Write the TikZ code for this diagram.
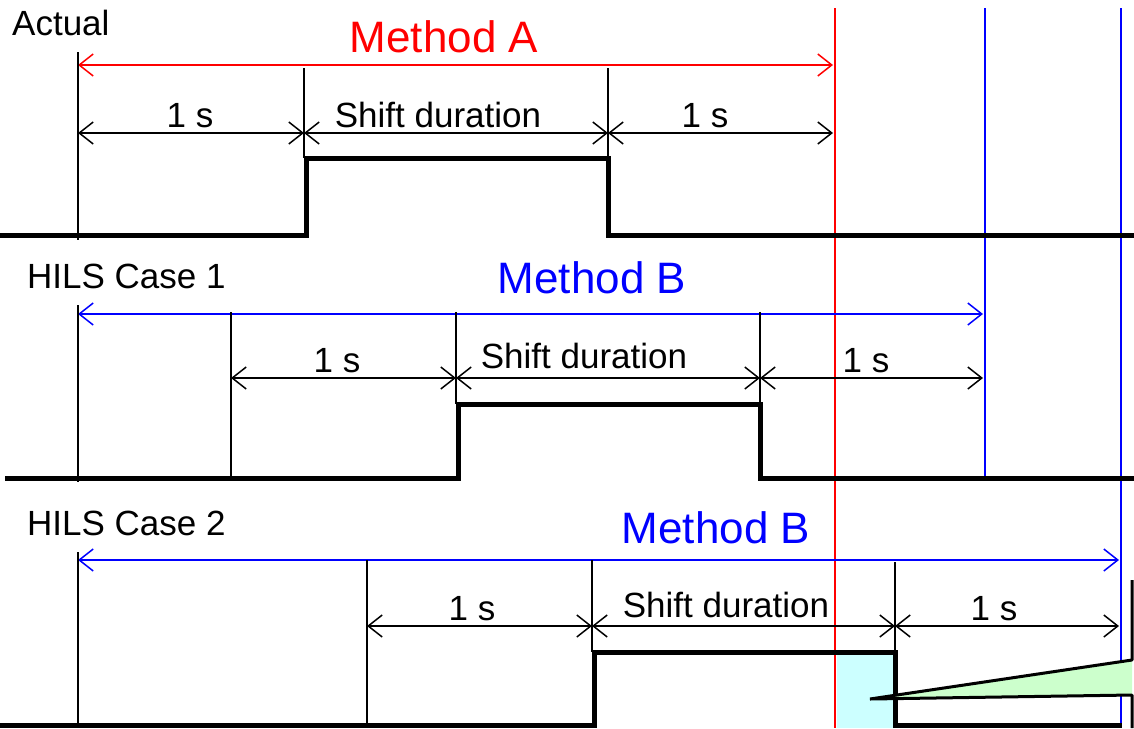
\documentclass[tikz,border=0pt]{standalone}
\usepackage{fontspec}
\setmainfont{Liberation Sans}
\usetikzlibrary{arrows.meta}
\definecolor{shiftcyan}{HTML}{CCFFFF}
\definecolor{callgreen}{HTML}{CCFFCC}
\tikzset{
  barb/.tip={Straight Barb[length=14pt,width=22pt]},
  dim/.style={barb-barb, line width=1.5pt},
  tick/.style={line width=1.5pt},
  signal/.style={line width=5pt},
  lbl/.style={anchor=base, inner sep=0pt},
  method/.style={lbl, font=\fontsize{44}{50}\selectfont},
}
\begin{document}
\begin{tikzpicture}[x=1pt, y=-1pt, font=\fontsize{35}{40}\selectfont]
    \useasboundingbox (0,0) rectangle (1134,728);

    % end marks of the methods
    \fill[shiftcyan] (837,652) rectangle (895,728);
    \draw[red, tick] (835,8) -- (835,728);
    \draw[blue, tick] (985,8) -- (985,478);
    \draw[blue, tick] (1121,8) -- (1121,728);

    % Actual
    \node[lbl, anchor=base west] (actual) at (12,35) {Actual};
    \node[method, red] (methodA) at (444,52) {Method A};
    \coordinate (ra) at (78,65);
    \coordinate (rb) at (833,65);
    \draw[red, dim] (ra) -- (rb);
    \draw[tick] (78,52) -- (78,240);
    \draw[tick] (304,68) -- (304,158);
    \draw[tick] (608,68) -- (608,158);
    \coordinate (a0) at (78,133);
    \coordinate (a1) at (304,133);
    \coordinate (a2) at (608,133);
    \coordinate (a3) at (833,133);
    \draw[dim] (a0) -- (a1);
    \draw[dim] (a1) -- (a2);
    \draw[dim] (a2) -- (a3);
    \node[lbl] (aone) at (190,127) {1 s};
    \node[lbl] (ashift) at (438,127) {Shift duration};
    \node[lbl] (atwo) at (705,127) {1 s};
    \draw[signal] (0,235) -- (306,235) -- (306,158) -- (608,158) -- (608,235) -- (1134,235);

    % HILS Case 1
    \node[lbl, anchor=base west] (caseone) at (27,288) {HILS Case 1};
    \node[method, blue] (methodB) at (592,293) {Method B};
    \coordinate (ba) at (78,314);
    \coordinate (bb) at (983,314);
    \draw[blue, dim] (ba) -- (bb);
    \draw[tick] (78,305) -- (78,482);
    \draw[tick] (231,312) -- (231,478);
    \draw[tick] (456,312) -- (456,404);
    \draw[tick] (760,312) -- (760,404);
    \coordinate (b0) at (231,378);
    \coordinate (b1) at (456,378);
    \coordinate (b2) at (760,378);
    \coordinate (b3) at (983,378);
    \draw[dim] (b0) -- (b1);
    \draw[dim] (b1) -- (b2);
    \draw[dim] (b2) -- (b3);
    \node[lbl] (bone) at (337,372) {1 s};
    \node[lbl] (bshift) at (584,368) {Shift duration};
    \node[lbl] (btwo) at (866,372) {1 s};
    \draw[signal] (5,478) -- (458,478) -- (458,404) -- (760,404) -- (760,478) -- (1134,478);

    % HILS Case 2
    \node[lbl, anchor=base west] (casetwo) at (27,535) {HILS Case 2};
    \node[method, blue] (methodBB) at (716,543) {Method B};
    \coordinate (ca) at (78,560);
    \coordinate (cb) at (1119,560);
    \draw[blue, dim] (ca) -- (cb);
    \draw[tick] (78,552) -- (78,728);
    \draw[tick] (367,560) -- (367,728);
    \draw[tick] (592,560) -- (592,652);
    \draw[tick] (895,562) -- (895,652);
    \coordinate (c0) at (367,626);
    \coordinate (c1) at (592,626);
    \coordinate (c2) at (895,626);
    \coordinate (c3) at (1119,626);
    \draw[dim] (c0) -- (c1);
    \draw[dim] (c1) -- (c2);
    \draw[dim] (c2) -- (c3);
    \node[lbl] (cone) at (472,620) {1 s};
    \node[lbl] (cshift) at (726,617) {Shift duration};
    \node[lbl] (ctwo) at (994,620) {1 s};
    \draw[signal] (0,725) -- (594,725) -- (594,652) -- (895,652) -- (895,725) -- (1122,725);

    % callout pointer
    \filldraw[fill=callgreen, line width=3pt, line join=bevel] (1132,580) -- (1132,660) -- (870,699) -- (1132,695) -- (1132,728);
\end{tikzpicture}
\end{document}
